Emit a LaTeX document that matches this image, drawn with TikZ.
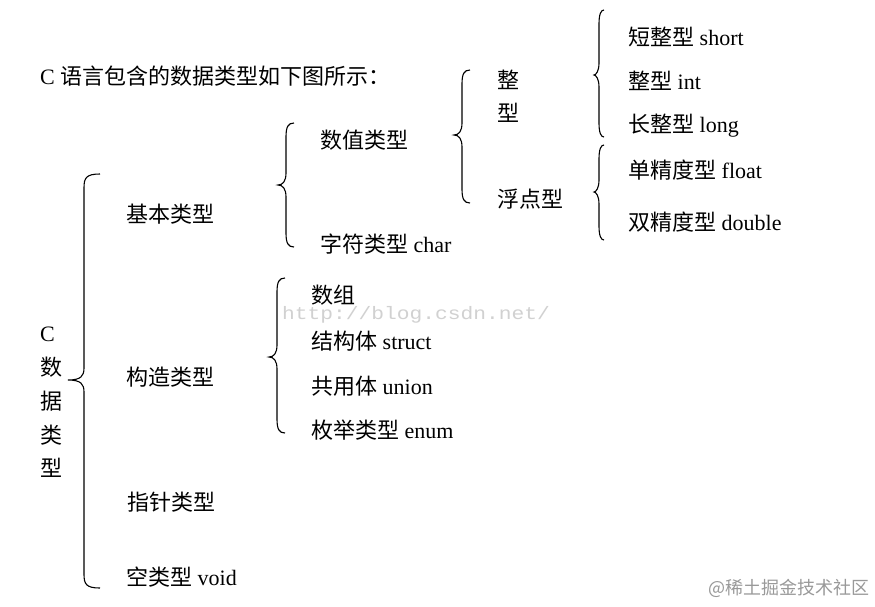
\documentclass[tikz,border=0pt]{standalone}
\usepackage{fontspec}
\setmainfont{Liberation Serif}
\setmonofont{Liberation Mono}
\newfontfamily\cjk{Noto Sans CJK SC}
\begin{document}
\begin{tikzpicture}[x=1pt,y=-1pt,
  lbl/.style={anchor=west,inner sep=0pt,font=\fontsize{22}{24}\selectfont},
  brc/.style={line width=1.1pt,black}]
\useasboundingbox (0,0) rectangle (875,606);
\fill[white] (0,0) rectangle (875,606);
% brace: spine x, top y, tip y, bottom y, hook
\newcommand\mybrace[5]{%
  \draw[brc] ({#1+#5},#2) .. controls ({#1+2},#2) and (#1,{#2+4}) .. (#1,{#2+14})
    -- (#1,{#3-12}) .. controls (#1,{#3-4}) and ({#1-3},#3) .. ({#1-#5},#3)
    .. controls ({#1-3},#3) and (#1,{#3+4}) .. (#1,{#3+12})
    -- (#1,{#4-14}) .. controls (#1,{#4-4}) and ({#1+2},#4) .. ({#1+#5},#4);}
% title
\node[lbl] (title) at (40,76) {C {\cjk 语言包含的数据类型如下图所示：}};
% root label
\node[lbl] (rc) at (40,334) {C};
\node[lbl] (r1) at (40,367) {\cjk 数};
\node[lbl] (r2) at (40,401) {\cjk 据};
\node[lbl] (r3) at (40,435) {\cjk 类};
\node[lbl] (r4) at (40,468) {\cjk 型};
% big brace
\mybrace{84}{174}{380}{588}{16}
\node[lbl] (basic) at (126,214) {\cjk 基本类型};
\node[lbl] (cons) at (126,377) {\cjk 构造类型};
\node[lbl] (ptr) at (127,502) {\cjk 指针类型};
\node[lbl] (void) at (126,577) {{\cjk 空类型} void};
% basic brace
\mybrace{286}{123}{185}{247}{8}
\node[lbl] (num) at (320,140) {\cjk 数值类型};
\node[lbl] (chr) at (320,244) {{\cjk 字符类型} char};
% numeric brace
\mybrace{462}{70}{135}{203}{8}
\node[lbl] (int1) at (497,80) {\cjk 整};
\node[lbl] (int2) at (497,113) {\cjk 型};
\node[lbl] (flt) at (497,199) {\cjk 浮点型};
% integer brace
\mybrace{599}{10}{75}{137}{5}
\node[lbl] (short) at (628,37) {{\cjk 短整型} short};
\node[lbl] (int) at (628,81) {{\cjk 整型} int};
\node[lbl] (long) at (628,126) {{\cjk 长整型} long};
% float brace
\mybrace{599}{145}{192}{240}{5}
\node[lbl] (float) at (628,170) {{\cjk 单精度型} float};
\node[lbl] (double) at (628,222) {{\cjk 双精度型} double};
% construct brace
\mybrace{277}{278}{357}{433}{8}
\node[lbl] (arr) at (311,295) {\cjk 数组};
\node[lbl] (struct) at (311,341) {{\cjk 结构体} struct};
\node[lbl] (union) at (311,386) {{\cjk 共用体} union};
\node[lbl] (enum) at (311,430) {{\cjk 枚举类型} enum};
% watermarks
\node[anchor=west,inner sep=0pt,text=black!18,xscale=1.18,font=\ttfamily\fontsize{18}{19}\selectfont] (wm1) at (282,315) {http://blog.csdn.net/};
\node[anchor=west,inner sep=0pt,text=black!40,font=\cjk\fontsize{18}{20}\selectfont] (wm2) at (708,588) {@稀土掘金技术社区};
\end{tikzpicture}
\end{document}
